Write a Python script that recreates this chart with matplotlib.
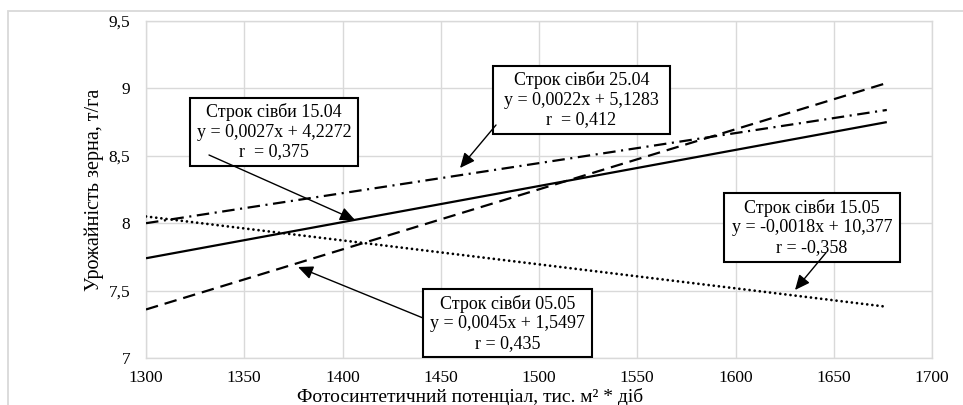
import matplotlib
matplotlib.use("Agg")
import matplotlib.pyplot as plt
from matplotlib.patches import Rectangle

plt.rcParams['font.family'] = ['Liberation Serif', 'DejaVu Serif']
plt.rcParams['lines.scale_dashes'] = False

# ---- data ----
x_range = [1300, 1677]
y_1504 = [7.74, 8.75]     # solid
y_2504 = [8.00, 8.84]     # dash-dot
y_0505 = [7.36, 9.04]     # dashed
y_1505 = [8.05, 7.38]     # dotted

x_ticks = [1300, 1350, 1400, 1450, 1500, 1550, 1600, 1650, 1700]
y_ticks = [7, 7.5, 8, 8.5, 9, 9.5]
y_tick_labels = ['7', '7,5', '8', '8,5', '9', '9,5']

box_1504 = "Строк сівби 15.04\ny = 0,0027x + 4,2272\nr  = 0,375"
box_2504 = "Строк сівби 25.04\ny = 0,0022x + 5,1283\nr  = 0,412"
box_1505 = "Строк сівби 15.05\ny = -0,0018x + 10,377\nr = -0,358"
box_0505 = "Строк сівби 05.05\ny = 0,0045x + 1,5497\nr = 0,435"

x_label = "Фотосинтетичний потенціал, тис. м² * діб"
y_label = "Урожайність зерна, т/га"

W, H = 963, 405
fig = plt.figure(figsize=(W / 100, H / 100), dpi=100)
AX_L, AX_R, AX_T, AX_B = 146, 932, 21, 358
ax = fig.add_axes([AX_L / W, 1 - AX_B / H, (AX_R - AX_L) / W, (AX_B - AX_T) / H])

grid_c = '#d9d9d9'
ax.set_xlim(1300, 1700)
ax.set_ylim(7, 9.5)
ax.set_xticks(x_ticks)
ax.set_yticks(y_ticks)
ax.set_yticklabels(y_tick_labels)
ax.grid(True, color=grid_c, lw=1.0)
ax.set_axisbelow(True)
for s in ax.spines.values():
    s.set_color(grid_c)
    s.set_linewidth(1.0)
ax.tick_params(axis='both', length=0, labelsize=12.5, colors='black')
ax.tick_params(axis='y', pad=11.5)
ax.tick_params(axis='x', pad=8.5)

ax.plot(x_range, y_1504, color='black', lw=1.6, solid_capstyle='butt', zorder=3)
ax.plot(x_range, y_2504, color='black', lw=1.6, linestyle=(0, (9.0, 4.0, 1.5, 4.0)),
        zorder=3)
ax.plot(x_range, y_0505, color='black', lw=1.6, linestyle=(0, (9.0, 5.0)), zorder=3)
ax.plot(x_range, y_1505, color='black', lw=2.0, linestyle=(0, (0.01, 3.7)),
        dash_capstyle='round', zorder=3)


def px2data(px, py):
    return (1300 + (px - AX_L) * 400 / (AX_R - AX_L),
            9.5 - (py - AX_T) * 2.5 / (AX_B - AX_T))


def text_box(text, x0, x1, y0, y1):
    (dx0, dy1), (dx1, dy0) = px2data(x0, y0), px2data(x1, y1)
    ax.add_patch(Rectangle((dx0, dy0), dx1 - dx0, dy1 - dy0, facecolor='white',
                           edgecolor='black', lw=1.5, zorder=5))
    ax.text((dx0 + dx1) / 2, (dy0 + dy1) / 2, text, ha='center', va='center',
            fontsize=13, linespacing=1.2, zorder=6)


text_box(box_1504, 190, 358, 97.7, 165.7)
text_box(box_2504, 493, 670, 65.7, 134)
text_box(box_1505, 724, 900, 192.7, 261.7)
text_box(box_0505, 423, 592, 289.3, 357.3)

arrow_kw = dict(arrowstyle='-|>,head_length=0.6,head_width=0.27', color='black',
                lw=1.0, shrinkA=0, shrinkB=0, mutation_scale=15)
arrows = [((209, 155), (355, 220)),
          ((496, 125), (460, 168)),
          ((826, 252.7), (795, 290)),
          ((423, 318), (298, 267))]
for start, end in arrows:
    ax.annotate('', xy=px2data(*end), xytext=px2data(*start), arrowprops=arrow_kw,
                zorder=7)

fig.text(470 / W, 1 - 397.5 / H, x_label, ha='center', va='center', fontsize=14)
fig.text(94 / W, 1 - 189.5 / H, y_label, ha='center', va='center', fontsize=14.5,
         rotation=90)

fig.patches.append(Rectangle((8 / W, -0.2), 1.2, 1.2 - 10.7 / H,
                             transform=fig.transFigure, fill=False,
                             edgecolor=grid_c, lw=1.3))

fig.savefig('out.png', dpi=100)
